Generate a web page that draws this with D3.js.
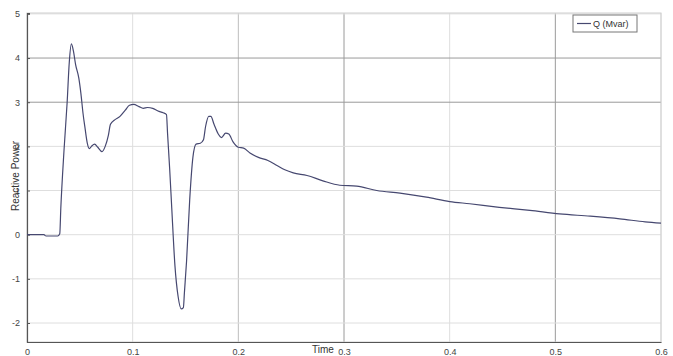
<!DOCTYPE html>
<html>
<head>
<meta charset="utf-8">
<script src="https://cdn.jsdelivr.net/npm/d3@7"></script>
<style>
  body { margin: 0; background: #fff; }
  svg { display: block; font-family: "Liberation Sans", Arial, sans-serif; }
</style>
</head>
<body>
<svg width="673" height="356"></svg>
<script>
// time (s)
var times = [0, 0.016, 0.018, 0.029, 0.031, 0.032, 0.035, 0.038, 0.040, 0.042,
  0.044, 0.046, 0.049, 0.051, 0.053, 0.055, 0.057, 0.059, 0.061, 0.064,
  0.067, 0.071, 0.074, 0.077, 0.079, 0.083, 0.088, 0.093, 0.097, 0.101,
  0.106, 0.110, 0.114, 0.119, 0.124, 0.129, 0.132, 0.133, 0.135, 0.137,
  0.140, 0.143, 0.146, 0.148, 0.149, 0.151, 0.154, 0.157, 0.160, 0.164,
  0.167, 0.169, 0.172, 0.174, 0.177, 0.181, 0.184, 0.188, 0.191, 0.195,
  0.200, 0.205, 0.211, 0.219, 0.228, 0.237, 0.244, 0.252, 0.265, 0.280,
  0.296, 0.312, 0.331, 0.353, 0.378, 0.400, 0.419, 0.447, 0.476, 0.504,
  0.533, 0.561, 0.585, 0.600];

// Q (Mvar)
var qValues = [0, 0, -0.03, -0.03, 0.02, 0.6, 1.9, 3.0, 3.9, 4.32,
  4.15, 3.85, 3.55, 3.2, 2.75, 2.4, 2.08, 1.95, 2.0, 2.05,
  1.98, 1.88, 2.0, 2.25, 2.5, 2.6, 2.68, 2.82, 2.93, 2.95,
  2.9, 2.86, 2.88, 2.86, 2.8, 2.76, 2.72, 2.3, 1.5, 0.6,
  -0.7, -1.4, -1.68, -1.65, -1.3, -0.6, 0.8, 1.75, 2.05, 2.07,
  2.15, 2.45, 2.68, 2.68, 2.5, 2.28, 2.2, 2.3, 2.28, 2.1,
  1.98, 1.96, 1.85, 1.75, 1.68, 1.56, 1.47, 1.4, 1.34, 1.22,
  1.12, 1.1, 1.0, 0.94, 0.85, 0.75, 0.7, 0.62, 0.55, 0.47,
  0.42, 0.36, 0.29, 0.26];

var xTicks = [0, 0.1, 0.2, 0.3, 0.4, 0.5, 0.6];
var yTicks = [-2, -1, 0, 1, 2, 3, 4, 5];

var data = times.map(function(t, i) { return {t: t, q: qValues[i]}; });

var svg = d3.select("svg");

var x = d3.scaleLinear().domain([0, 0.6]).range([27, 661]);
var y = d3.scaleLinear().domain([-2.43, 5.02]).range([342, 13]);

// grid lines (some print darker in the original)
var darkX = {0.3: "#9a9a9a", 0.5: "#9a9a9a", 0.2: "#bdbdbd"};
var darkY = {3: "#9a9a9a", 4: "#9a9a9a"};

svg.append("g").selectAll("line")
  .data(xTicks.slice(1))
  .enter().append("line")
    .attr("x1", function(d) { return x(d); })
    .attr("x2", function(d) { return x(d); })
    .attr("y1", y.range()[1])
    .attr("y2", y.range()[0])
    .attr("stroke", function(d) { return darkX[d] || "#dedede"; })
    .attr("stroke-width", 1);

svg.append("g").selectAll("line")
  .data(yTicks)
  .enter().append("line")
    .attr("x1", x.range()[0])
    .attr("x2", x.range()[1])
    .attr("y1", function(d) { return y(d); })
    .attr("y2", function(d) { return y(d); })
    .attr("stroke", function(d) { return darkY[d] || "#dedede"; })
    .attr("stroke-width", 1);

// frame top/right
svg.append("rect")
  .attr("x", x.range()[0])
  .attr("y", y.range()[1])
  .attr("width", x.range()[1] - x.range()[0])
  .attr("height", y.range()[0] - y.range()[1])
  .attr("fill", "none")
  .attr("stroke", "#cfcfcf");

// axes
var xAxis = svg.append("g")
  .attr("transform", "translate(0," + y.range()[0] + ")")
  .call(d3.axisBottom(x).tickValues(xTicks).tickSize(0).tickPadding(7)
    .tickFormat(function(d) { return d === 0 ? "0" : d3.format(".1f")(d); }));

var yAxis = svg.append("g")
  .attr("transform", "translate(" + x.range()[0] + ",0)")
  .call(d3.axisLeft(y).tickValues(yTicks).tickSize(-3).tickPadding(7)
    .tickFormat(function(d) { return String(d); }));

[xAxis, yAxis].forEach(function(a) {
  a.select(".domain").attr("stroke", "#555").attr("stroke-width", 1.2);
  a.selectAll(".tick line").attr("stroke", "#555");
  a.selectAll("text").attr("fill", "#444").style("font-size", "9px");
});

// the curve
var line = d3.line()
  .x(function(d) { return x(d.t); })
  .y(function(d) { return y(d.q); })
  .curve(d3.curveMonotoneX);

svg.append("path")
  .datum(data)
  .attr("d", line)
  .attr("fill", "none")
  .attr("stroke", "#464870")
  .attr("stroke-width", 1.2);

// axis labels
svg.append("text")
  .attr("x", 323)
  .attr("y", 353)
  .attr("text-anchor", "middle")
  .attr("fill", "#333")
  .style("font-size", "10px")
  .text("Time");

svg.append("text")
  .attr("transform", "translate(19,176) rotate(-90)")
  .attr("text-anchor", "middle")
  .attr("fill", "#333")
  .style("font-size", "10px")
  .text("Reactive Power");

// legend
var legend = svg.append("g").attr("transform", "translate(573,15)");
legend.append("rect")
  .attr("width", 64)
  .attr("height", 17)
  .attr("fill", "#fff")
  .attr("stroke", "#777");
legend.append("line")
  .attr("x1", 4).attr("x2", 18)
  .attr("y1", 8.5).attr("y2", 8.5)
  .attr("stroke", "#464870")
  .attr("stroke-width", 1.2);
legend.append("text")
  .attr("x", 20)
  .attr("y", 12)
  .attr("fill", "#333")
  .style("font-size", "9px")
  .text("Q (Mvar)");
</script>
</body>
</html>
